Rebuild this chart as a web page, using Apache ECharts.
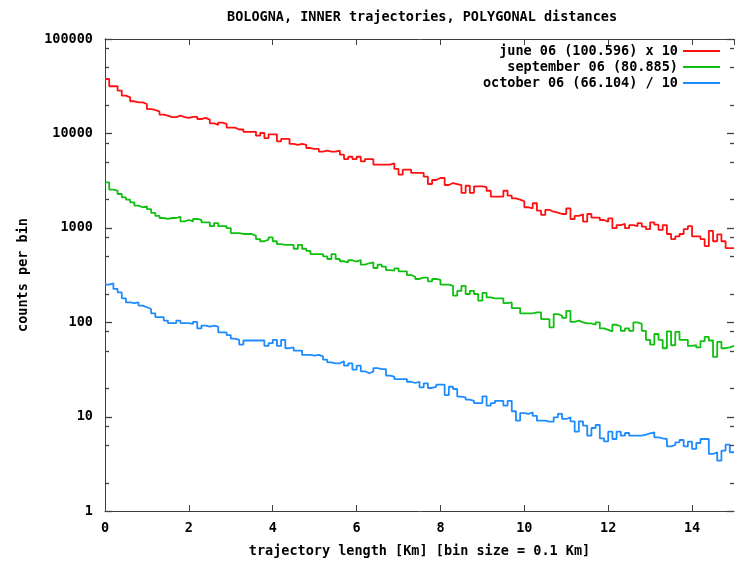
<!DOCTYPE html>
<html><head><meta charset="utf-8">
<script src="https://cdn.jsdelivr.net/npm/echarts/dist/echarts.min.js"></script>
<style>html,body{margin:0;padding:0;background:#fff}#c{width:740px;height:570px}</style>
</head><body><div id="c"></div>
<script>
// ---- data (values as plotted, counts per 0.1 Km bin) ----
const BIN = 0.1;
const titleText = 'BOLOGNA, INNER trajectories, POLYGONAL distances';
const xName = 'trajectory length [Km] [bin size = 0.1 Km]';
const yName = 'counts per bin';
const seriesNames = ['june 06 (100.596) x 10', 'september 06 (80.885)', 'october 06 (66.104) / 10'];
const seriesColors = ['#ff1010', '#10c010', '#1e8cff'];

const juneX10 = [
 37700,31600,31600,28400,25100,24100,21900,21300,21300,20500,18100,17700,17000,15800,15400,14900,14900,15400,14900,14600,
 15000,15000,14200,14600,14000,12800,12300,13000,12600,11500,11500,11000,11000,10400,10400,10400,9460,10100,8930,9780,
 9780,8240,8730,8730,7730,7540,7730,7540,7000,6840,6840,6400,6570,6400,6400,6570,5950,5350,5660,5350,
 5660,5060,5350,5350,4660,4660,4660,4660,4820,4200,3650,4130,4130,3810,3810,3810,3480,2910,3210,3370,
 3370,2840,2980,2910,2840,2340,2790,2340,2750,2750,2690,2470,2140,2140,2140,2470,2190,2050,1990,1910,
 1650,1610,1820,1520,1370,1550,1480,1450,1400,1400,1610,1240,1340,1390,1160,1400,1280,1280,1210,1160,
 1260,990,1070,1100,990,1070,1040,1120,1030,970,1140,1080,950,1070,860,760,810,860,970,1040,
 810,810,760,640,930,720,850,720,610,610
];
const september = [
 3030,2540,2470,2280,2100,1990,1860,1720,1650,1690,1580,1440,1340,1270,1240,1270,1270,1310,1170,1210,
 1170,1240,1210,1140,1140,1040,1120,1040,1040,990,880,880,860,860,860,820,760,720,750,790,
 720,670,660,660,660,600,660,600,570,527,527,527,499,467,527,467,442,431,453,438,
 456,407,421,431,375,407,387,357,351,372,346,346,316,303,287,296,296,271,287,280,
 250,250,243,191,215,243,199,215,199,169,204,183,179,179,179,159,162,141,141,124,
 124,124,127,127,108,108,88,122,117,111,132,101,104,99.5,97,97,94,99.5,86,83,
 80,94,90,81,86,81,99.5,96,81,65,58,75,65,53,80,57,79,65,65,56,
 57,54,63,70,64,43,62,53,54,56
];
const octoberDiv10 = [
 250,258,225,207,179,162,159,162,150,144,138,124,113,113,104,98,98,104,98,98,
 96,101,86,92,90,92,90,78,78,73,67,65,58,64,64,64,64,64,56,60,
 65,56,65,53,54,50,50,45,45,44.2,45.0,43.5,40.1,37.6,36.7,36.7,38.5,34.6,36.7,31.4,
 34.6,30.2,28.8,29.9,32.7,31.9,31.9,27.2,26.5,25.0,25.0,25.0,23.4,22.7,23.4,20.4,22.5,20.1,20.7,21.8,
 21.8,16.9,20.7,19.6,16.3,16.0,15.1,14.7,13.9,13.9,16.4,13.1,13.9,14.7,14.7,13.1,14.7,11.4,9.06,10.9,
 10.7,11.1,10.2,9.06,9.06,8.84,8.84,9.83,10.7,9.44,9.83,8.92,6.92,8.92,8.01,6.28,7.57,8.15,5.89,5.47,
 6.92,5.79,6.92,6.28,6.70,6.28,6.28,6.28,6.43,6.65,6.82,6.03,5.89,5.79,4.84,5.00,5.34,5.65,4.84,5.42,
 4.54,5.25,5.79,5.79,4.02,4.19,3.41,4.36,5.04,4.19
];
const yMajorTicks = [1,10,100,1000,10000,100000];
const yMinorTicks = [2,5,8,20,50,80,200,500,800,2000,5000,8000,20000,50000,80000];
const X_MIN = 0, X_MAX = 15;

// ---- build ----
const FONT = 'DejaVu Sans Mono';
const AX = '#404040';
function stepData(vals) {
  const d = vals.map((v, i) => [+(i * BIN).toFixed(1), v]);
  d.push([+(vals.length * BIN).toFixed(1), vals[vals.length - 1]]);
  return d;
}
const txt = {fontFamily: FONT, fontWeight: 'bold', fontSize: 13.5, color: '#000'};
const allSeries = [juneX10, september, octoberDiv10].map((vals, k) => ({
  name: seriesNames[k], type: 'line', step: 'end', showSymbol: false, symbol: 'none',
  color: seriesColors[k], lineStyle: {width: 1.8, color: seriesColors[k]},
  data: stepData(vals), animation: false, z: 3
}));

const axLine = {show: true, lineStyle: {color: AX, width: 1}};
const axTick = {show: true, inside: true, length: 6, lineStyle: {color: AX, width: 1}};
const option = {
  backgroundColor: '#fff',
  animation: false,
  title: {text: titleText, left: 222, top: 5, textStyle: Object.assign({}, txt)},
  legend: {
    data: seriesNames, orient: 'vertical', align: 'right', right: 15, top: 38,
    itemWidth: 37, itemHeight: 2, itemGap: 0, icon: 'rect',
    textStyle: Object.assign({lineHeight: 16}, txt)
  },
  grid: {left: 105, right: 6, top: 39, bottom: 59, containLabel: false, outerBoundsMode: 'none'},
  xAxis: [
    {type: 'value', min: X_MIN, max: X_MAX, interval: 2, position: 'bottom',
     axisLine: axLine, axisTick: axTick, splitLine: {show: false},
     axisLabel: Object.assign({margin: 10, showMaxLabel: false, formatter: v => (v === 15 ? '' : String(v))}, txt),
     name: xName, nameLocation: 'middle', nameGap: 33, nameTextStyle: Object.assign({}, txt)},
    {type: 'value', min: X_MIN, max: X_MAX, interval: 2, position: 'top',
     axisLine: axLine, axisTick: axTick, splitLine: {show: false}, axisLabel: {show: false}}
  ],
  yAxis: [
    {type: 'log', logBase: 10, min: 1, max: 100000, position: 'left',
     axisLine: axLine, axisTick: {show: false}, splitLine: {show: false},
     axisLabel: Object.assign({margin: 12, formatter: v => String(Math.round(v))}, txt),
     name: yName, nameLocation: 'middle', nameGap: 75, nameTextStyle: Object.assign({}, txt)},
    {type: 'log', logBase: 10, min: 1, max: 100000, position: 'right',
     axisLine: axLine, axisTick: {show: false}, splitLine: {show: false}, axisLabel: {show: false}}
  ],
  series: allSeries
};
const chart = echarts.init(document.getElementById('c'), null, {renderer: 'canvas'});
chart.setOption(option);

// y-axis tick marks (both sides, inside), positioned through the axis scales
const xl = chart.convertToPixel({xAxisIndex: 0}, X_MIN);
const xr = chart.convertToPixel({xAxisIndex: 0}, X_MAX);
const tickEls = [];
function addTicks(vals, len, w) {
  vals.forEach(v => {
    const y = Math.round(chart.convertToPixel({yAxisIndex: 0}, v)) + 0.5;
    tickEls.push({type: 'line', z: 100, silent: true, shape: {x1: xl, y1: y, x2: xl + len, y2: y}, style: {stroke: AX, lineWidth: w}});
    tickEls.push({type: 'line', z: 100, silent: true, shape: {x1: xr - len, y1: y, x2: xr, y2: y}, style: {stroke: AX, lineWidth: w}});
  });
}
addTicks(yMajorTicks, 7, 1.3);
addTicks(yMinorTicks, 4, 1.3);
chart.setOption({graphic: {elements: tickEls}});
</script>
</body></html>
